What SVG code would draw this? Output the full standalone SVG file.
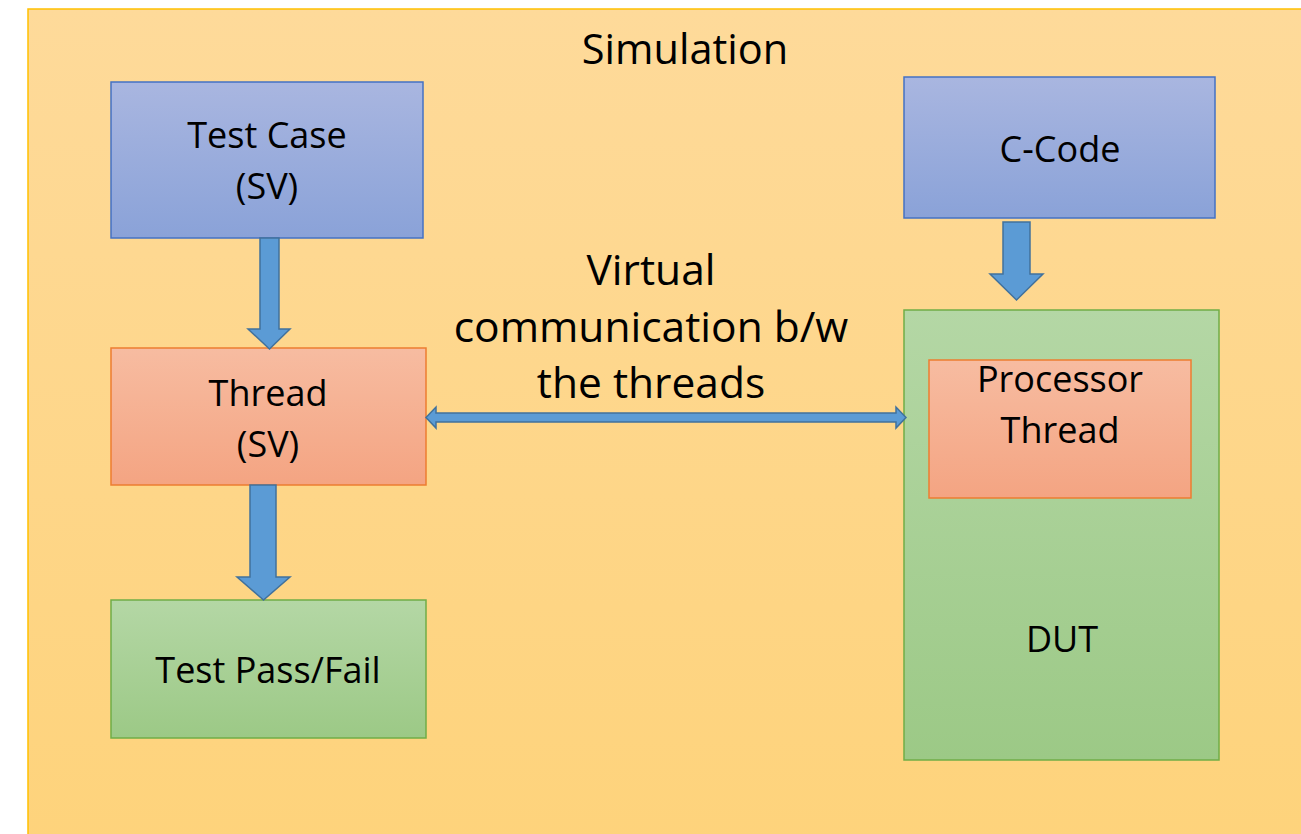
<svg xmlns="http://www.w3.org/2000/svg" width="1301" height="834" viewBox="0 0 1301 834">
  <defs>
    <linearGradient id="gBg" x1="0" y1="0" x2="0" y2="1">
      <stop offset="0" stop-color="#FEDA9A"/>
      <stop offset="1" stop-color="#FED37B"/>
    </linearGradient>
    <linearGradient id="gBlue" x1="0" y1="0" x2="0" y2="1">
      <stop offset="0" stop-color="#A9B6E0"/>
      <stop offset="1" stop-color="#8AA2D8"/>
    </linearGradient>
    <linearGradient id="gOrange" x1="0" y1="0" x2="0" y2="1">
      <stop offset="0" stop-color="#F7BCA1"/>
      <stop offset="1" stop-color="#F4A482"/>
    </linearGradient>
    <linearGradient id="gGreen" x1="0" y1="0" x2="0" y2="1">
      <stop offset="0" stop-color="#B4D7A5"/>
      <stop offset="1" stop-color="#9CC986"/>
    </linearGradient>
  </defs>
  <style>
    text { font-family: "Open Sans", "Liberation Sans", sans-serif; fill: #000; text-anchor: middle; }
    .lbl { font-size: 36px; }
    .big { font-size: 41.5px; }
    .mid { font-size: 42.5px; }
    .blue { fill: url(#gBlue); stroke: #4472C4; stroke-width: 1.5; }
    .orange { fill: url(#gOrange); stroke: #ED7D31; stroke-width: 1.5; }
    .green { fill: url(#gGreen); stroke: #70AD47; stroke-width: 1.5; }
    .arrow { fill: #5B9BD5; stroke: #41719C; stroke-width: 1.5; }
  </style>

  <rect x="0" y="0" width="1301" height="834" fill="#FFFFFF"/>

  <!-- simulation frame -->
  <g id="simulation">
    <rect x="28" y="9" width="1290" height="840" fill="url(#gBg)" stroke="#FFC000" stroke-width="1.5"/>
    <text class="big" x="685" y="64">Simulation</text>
  </g>

  <g id="test-case">
    <rect class="blue" x="111" y="82" width="312" height="156"/>
    <text class="lbl" x="267" y="148">Test Case</text>
    <text class="lbl" x="267" y="199">(SV)</text>
  </g>

  <g id="c-code">
    <rect class="blue" x="904" y="77" width="311" height="141"/>
    <text class="lbl" x="1060" y="162">C-Code</text>
  </g>

  <g id="thread-sv">
    <rect class="orange" x="111" y="348" width="315" height="137"/>
    <text class="lbl" x="268" y="406">Thread</text>
    <text class="lbl" x="268" y="457">(SV)</text>
  </g>

  <g id="test-result">
    <rect class="green" x="111" y="600" width="315" height="138"/>
    <text class="lbl" x="268" y="683">Test Pass/Fail</text>
  </g>

  <g id="dut">
    <rect class="green" x="904" y="310" width="315" height="450"/>
    <text class="lbl" x="1062" y="652">DUT</text>
  </g>

  <g id="processor-thread">
    <rect class="orange" x="929" y="360" width="262" height="138"/>
    <text class="lbl" x="1060" y="392">Processor</text>
    <text class="lbl" x="1060" y="443">Thread</text>
  </g>

  <g id="link-label">
    <text class="mid" x="651" y="285">Virtual</text>
    <text class="mid" x="651" y="342">communication b/w</text>
    <text class="mid" x="651" y="398">the threads</text>
  </g>

  <g id="connectors">
    <!-- Test Case to Thread -->
    <path class="arrow" d="M260,238 H279 V329 H290 L269.5,349 L248,329 H260 Z"/>
    <!-- Thread to Test Pass/Fail -->
    <path class="arrow" d="M250,485 H276 V577 H290 L263.5,600 L237,577 H250 Z"/>
    <!-- C-Code to DUT -->
    <path class="arrow" d="M1003,222 H1030 V274 H1043 L1016.5,300 L990,274 H1003 Z"/>
    <!-- Thread to DUT, both ways -->
    <path class="arrow" d="M426,417.5 L436,407 V413 H896 V407 L906,417.5 L896,428 V422 H436 V428 Z"/>
  </g>
</svg>
